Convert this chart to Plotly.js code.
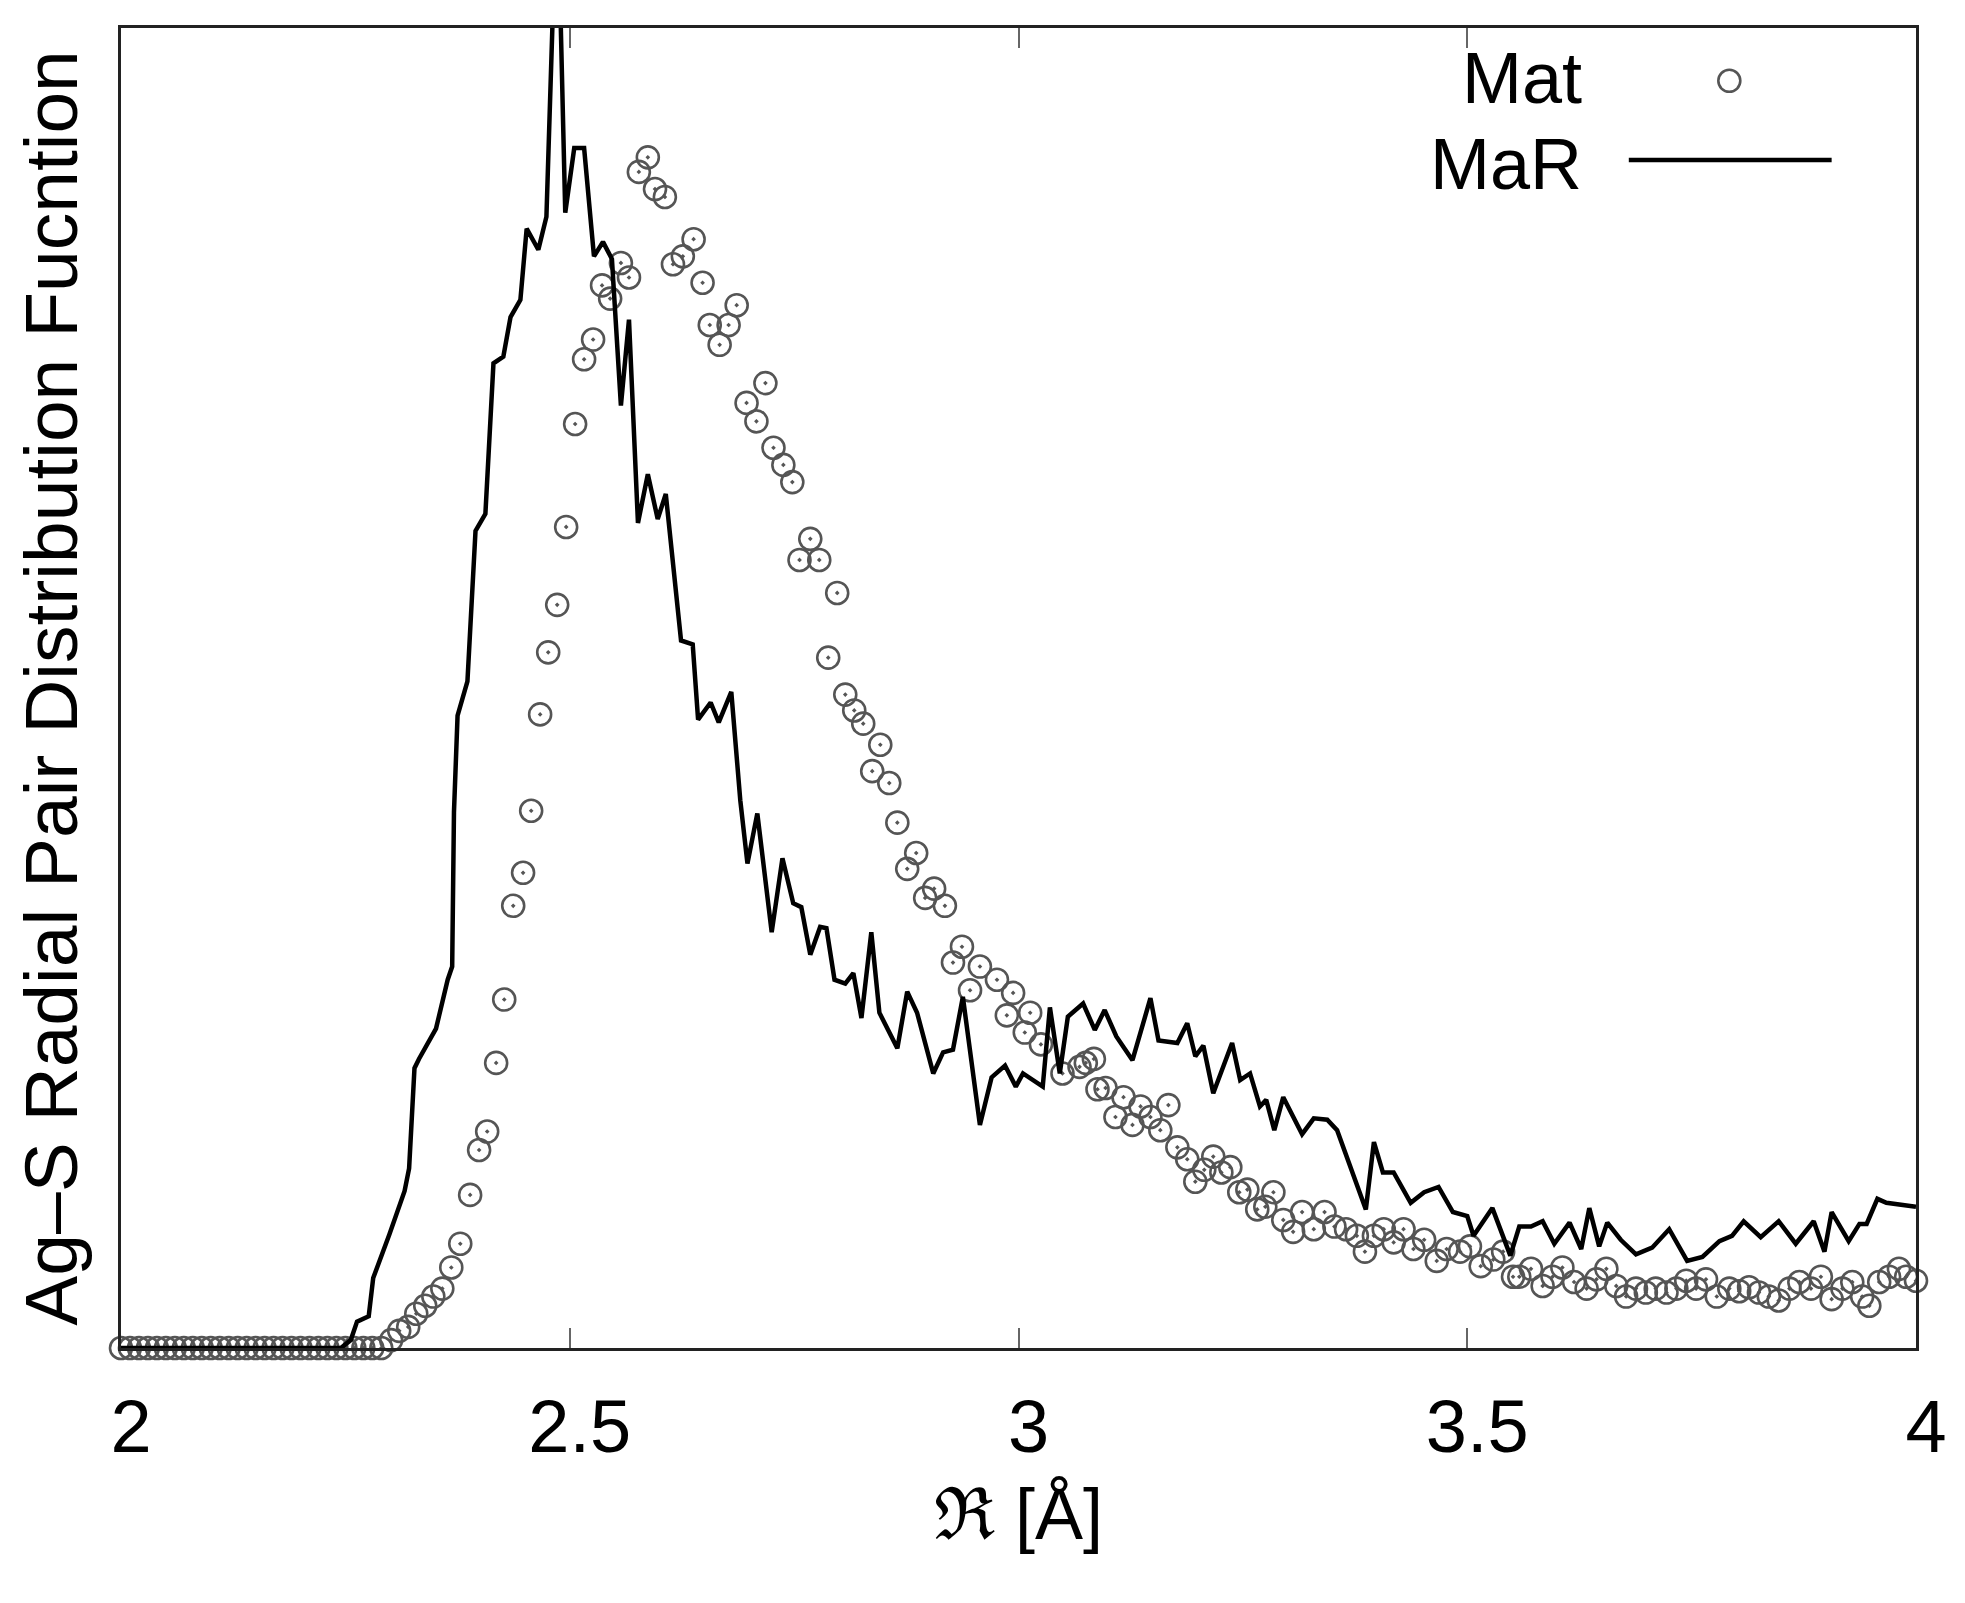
<!DOCTYPE html>
<html>
<head>
<meta charset="utf-8">
<script src="https://cdn.plot.ly/plotly-3.0.1.min.js"></script>
<style>
  html, body { margin: 0; padding: 0; background: #ffffff; }
  #chart { width: 1965px; height: 1603px; }
</style>
</head>
<body>
<div id="chart"></div>
<script>
// Mat (open circles)
const matR = [
  2.00, 2.01, 2.02, 2.03, 2.04, 2.05, 2.06, 2.07, 2.08, 2.09,
  2.10, 2.11, 2.12, 2.13, 2.14, 2.15, 2.16, 2.17, 2.18, 2.19,
  2.20, 2.21, 2.22, 2.23, 2.24, 2.25, 2.26, 2.27, 2.28, 2.29,
  2.301, 2.310, 2.320, 2.329, 2.339, 2.348, 2.358, 2.368, 2.378, 2.389,
  2.399, 2.408, 2.418, 2.427, 2.437, 2.448, 2.457, 2.467, 2.476, 2.486,
  2.496, 2.506, 2.516, 2.526, 2.536, 2.545, 2.557, 2.566, 2.577, 2.587,
  2.595, 2.606, 2.615, 2.626, 2.638, 2.648, 2.656, 2.667, 2.677, 2.686,
  2.697, 2.708, 2.718, 2.727, 2.738, 2.748, 2.756, 2.768, 2.778, 2.788,
  2.798, 2.807, 2.817, 2.827, 2.837, 2.846, 2.856, 2.865, 2.876, 2.886,
  2.896, 2.906, 2.918, 2.927, 2.937, 2.946, 2.957, 2.976, 2.987, 2.994,
  3.007, 3.013, 3.025, 3.049, 3.068, 3.075, 3.084, 3.088, 3.097, 3.108,
  3.117, 3.127, 3.136, 3.147, 3.158, 3.167, 3.177, 3.188, 3.197, 3.207,
  3.217, 3.226, 3.236, 3.246, 3.255, 3.266, 3.275, 3.284, 3.295, 3.306,
  3.316, 3.329, 3.341, 3.352, 3.365, 3.377, 3.386, 3.396, 3.407, 3.418,
  3.429, 3.440, 3.452, 3.466, 3.477, 3.492, 3.503, 3.515, 3.529, 3.540,
  3.551, 3.558, 3.571, 3.584, 3.595, 3.606, 3.619, 3.633, 3.644, 3.655,
  3.666, 3.677, 3.688, 3.699, 3.710, 3.722, 3.733, 3.744, 3.755, 3.766,
  3.778, 3.792, 3.803, 3.814, 3.825, 3.836, 3.847, 3.859, 3.870, 3.883,
  3.894, 3.906, 3.918, 3.929, 3.940, 3.948, 3.959, 3.970, 3.981, 3.989,
  4.000,
];
const matG = [
  0, 0, 0, 0, 0, 0, 0, 0, 0, 0,
  0, 0, 0, 0, 0, 0, 0, 0, 0, 0,
  0, 0, 0, 0, 0, 0, 0, 0, 0, 0,
  0.06, 0.13, 0.16, 0.26, 0.32, 0.39, 0.45, 0.61, 0.79, 1.16,
  1.50, 1.64, 2.16, 2.64, 3.35, 3.60, 4.07, 4.80, 5.27, 5.63,
  6.22, 7.00, 7.49, 7.64, 8.05, 7.95, 8.22, 8.11, 8.91, 9.02,
  8.78, 8.72, 8.21, 8.27, 8.40, 8.07, 7.75, 7.60, 7.75, 7.90,
  7.16, 7.02, 7.31, 6.82, 6.69, 6.56, 5.97, 6.13, 5.97, 5.23,
  5.72, 4.95, 4.83, 4.73, 4.37, 4.57, 4.28, 3.98, 3.63, 3.75,
  3.41, 3.48, 3.35, 2.92, 3.04, 2.71, 2.89, 2.79, 2.52, 2.69,
  2.39, 2.54, 2.30, 2.08, 2.13, 2.16, 2.19, 1.96, 1.97, 1.75,
  1.90, 1.69, 1.83, 1.75, 1.65, 1.84, 1.52, 1.43, 1.26, 1.35,
  1.45, 1.33, 1.37, 1.18, 1.20, 1.05, 1.07, 1.18, 0.97, 0.88,
  1.03, 0.90, 1.03, 0.92, 0.90, 0.85, 0.73, 0.85, 0.90, 0.80,
  0.90, 0.75, 0.82, 0.66, 0.75, 0.73, 0.77, 0.62, 0.67, 0.73,
  0.54, 0.54, 0.60, 0.47, 0.54, 0.61, 0.50, 0.45, 0.52, 0.60,
  0.47, 0.39, 0.45, 0.42, 0.45, 0.42, 0.45, 0.51, 0.45, 0.52,
  0.39, 0.45, 0.43, 0.46, 0.42, 0.39, 0.36, 0.45, 0.50, 0.45,
  0.54, 0.37, 0.45, 0.50, 0.39, 0.32, 0.50, 0.54, 0.60, 0.54,
  0.51,
];

// MaR (solid line)
const marR = [
  2.00, 2.10, 2.20, 2.245, 2.256, 2.263, 2.276, 2.281, 2.299, 2.316,
  2.321, 2.327, 2.332, 2.351, 2.364, 2.369, 2.371, 2.375, 2.386, 2.395,
  2.406, 2.415, 2.426, 2.434, 2.445, 2.452, 2.465, 2.474, 2.482, 2.489,
  2.495, 2.505, 2.516, 2.527, 2.537, 2.547, 2.557, 2.566, 2.576, 2.587,
  2.598, 2.607, 2.624, 2.637, 2.643, 2.657, 2.666, 2.680, 2.690, 2.698,
  2.709, 2.725, 2.737, 2.749, 2.758, 2.768, 2.779, 2.786, 2.795, 2.807,
  2.816, 2.825, 2.836, 2.845, 2.865, 2.876, 2.887, 2.905, 2.916, 2.927,
  2.938, 2.957, 2.970, 2.985, 2.997, 3.005, 3.027, 3.035, 3.046, 3.055,
  3.072, 3.085, 3.096, 3.109, 3.127, 3.147, 3.156, 3.177, 3.188, 3.197,
  3.206, 3.217, 3.238, 3.247, 3.258, 3.269, 3.276, 3.285, 3.295, 3.306,
  3.316, 3.329, 3.344, 3.355, 3.387, 3.396, 3.406, 3.418, 3.437, 3.452,
  3.468, 3.484, 3.500, 3.507, 3.528, 3.548, 3.558, 3.571, 3.584, 3.597,
  3.614, 3.627, 3.636, 3.647, 3.656, 3.671, 3.688, 3.706, 3.725, 3.745,
  3.762, 3.781, 3.795, 3.808, 3.827, 3.847, 3.866, 3.886, 3.898, 3.906,
  3.925, 3.937, 3.945, 3.957, 3.967, 4.000,
];
const marG = [
  0, 0, 0, 0, 0.06, 0.20, 0.24, 0.53, 0.86, 1.19,
  1.36, 2.12, 2.19, 2.42, 2.79, 2.89, 4.06, 4.79, 5.05, 6.19,
  6.32, 7.46, 7.51, 7.81, 7.94, 8.48, 8.32, 8.57, 10.3, 10.3,
  8.60, 9.09, 9.09, 8.27, 8.38, 8.25, 7.14, 7.79, 6.25, 6.62,
  6.28, 6.47, 5.36, 5.33, 4.76, 4.89, 4.74, 4.97, 4.15, 3.67,
  4.05, 3.15, 3.71, 3.37, 3.34, 2.98, 3.19, 3.18, 2.79, 2.76,
  2.84, 2.50, 3.15, 2.54, 2.27, 2.70, 2.54, 2.08, 2.24, 2.26,
  2.66, 1.69, 2.05, 2.14, 1.98, 2.08, 1.98, 2.58, 2.08, 2.51,
  2.61, 2.41, 2.56, 2.36, 2.18, 2.65, 2.33, 2.31, 2.46, 2.21,
  2.29, 1.93, 2.31, 2.03, 2.08, 1.83, 1.88, 1.65, 1.90, 1.75,
  1.62, 1.74, 1.73, 1.65, 1.05, 1.56, 1.33, 1.33, 1.10, 1.18,
  1.22, 1.03, 1.00, 0.85, 1.06, 0.70, 0.92, 0.92, 0.96, 0.79,
  0.95, 0.75, 1.06, 0.77, 0.95, 0.82, 0.71, 0.76, 0.90, 0.66,
  0.69, 0.81, 0.85, 0.96, 0.84, 0.96, 0.79, 0.96, 0.73, 1.03,
  0.81, 0.94, 0.94, 1.13, 1.10, 1.07,
];

const xTickVals = [2, 2.5, 3, 3.5, 4];
const xTickText = ["2", "2.5", "3", "3.5", "4"];
const legendNames = ["Mat", "MaR"];

const fontFamily = "Liberation Sans, Arial, Helvetica, sans-serif";
const circleColor = "#555555";

const traces = [
  {
    x: matR,
    y: matG,
    type: "scatter",
    mode: "markers",
    name: legendNames[0],
    cliponaxis: false,
    marker: {
      symbol: "circle-open-dot",
      size: 22,
      color: circleColor,
      line: { width: 2.6, color: circleColor },
    },
  },
  {
    x: marR,
    y: marG,
    type: "scatter",
    mode: "lines",
    name: legendNames[1],
    line: { color: "#000000", width: 4.5 },
  },
];

// gnuplot style key: text on the left, sample on the right
const annotations = [
  {
    xref: "paper", yref: "paper", x: 0.815, y: 0.962,
    xanchor: "right", yanchor: "middle", showarrow: false,
    text: legendNames[0], font: { family: fontFamily, size: 72, color: "#000000" },
  },
  {
    xref: "paper", yref: "paper", x: 0.815, y: 0.897,
    xanchor: "right", yanchor: "middle", showarrow: false,
    text: legendNames[1], font: { family: fontFamily, size: 72, color: "#000000" },
  },
];

const shapes = [
  {
    type: "circle", xref: "paper", yref: "paper",
    xsizemode: "pixel", ysizemode: "pixel",
    xanchor: 0.896, yanchor: 0.960,
    x0: -11, x1: 11, y0: -11, y1: 11,
    line: { color: circleColor, width: 2.6 },
  },
  {
    type: "line", xref: "paper", yref: "paper",
    x0: 0.840, x1: 0.953, y0: 0.900, y1: 0.900,
    line: { color: "#000000", width: 4.5 },
  },
];

const layout = {
  width: 1965,
  height: 1603,
  margin: { l: 121, r: 49, t: 28, b: 255 },
  paper_bgcolor: "#ffffff",
  plot_bgcolor: "#ffffff",
  showlegend: false,
  font: { family: fontFamily, color: "#000000" },
  xaxis: {
    range: [2, 4],
    tickvals: xTickVals,
    ticktext: xTickText,
    ticks: "inside",
    ticklen: 20,
    tickwidth: 2,
    tickcolor: "#666666",
    ticklabelshift: 10,
    ticklabelstandoff: 12,
    tickfont: { family: fontFamily, size: 74, color: "#000000" },
    showline: true,
    linecolor: "#222222",
    linewidth: 3,
    mirror: "ticks",
    showgrid: false,
    zeroline: false,
    title: {
      text: "ℜ [Å]",
      font: { family: fontFamily, size: 72, color: "#000000" },
      standoff: 22,
    },
  },
  yaxis: {
    range: [0, 10],
    showticklabels: false,
    ticks: "",
    showline: true,
    linecolor: "#222222",
    linewidth: 3,
    mirror: true,
    showgrid: false,
    zeroline: false,
    title: {
      text: "Ag–S Radial Pair Distribution Fucntion",
      font: { family: fontFamily, size: 75, color: "#000000" },
      standoff: 16,
    },
  },
  annotations: annotations,
  shapes: shapes,
};

Plotly.newPlot("chart", traces, layout, { displayModeBar: false, staticPlot: true });
</script>
</body>
</html>
